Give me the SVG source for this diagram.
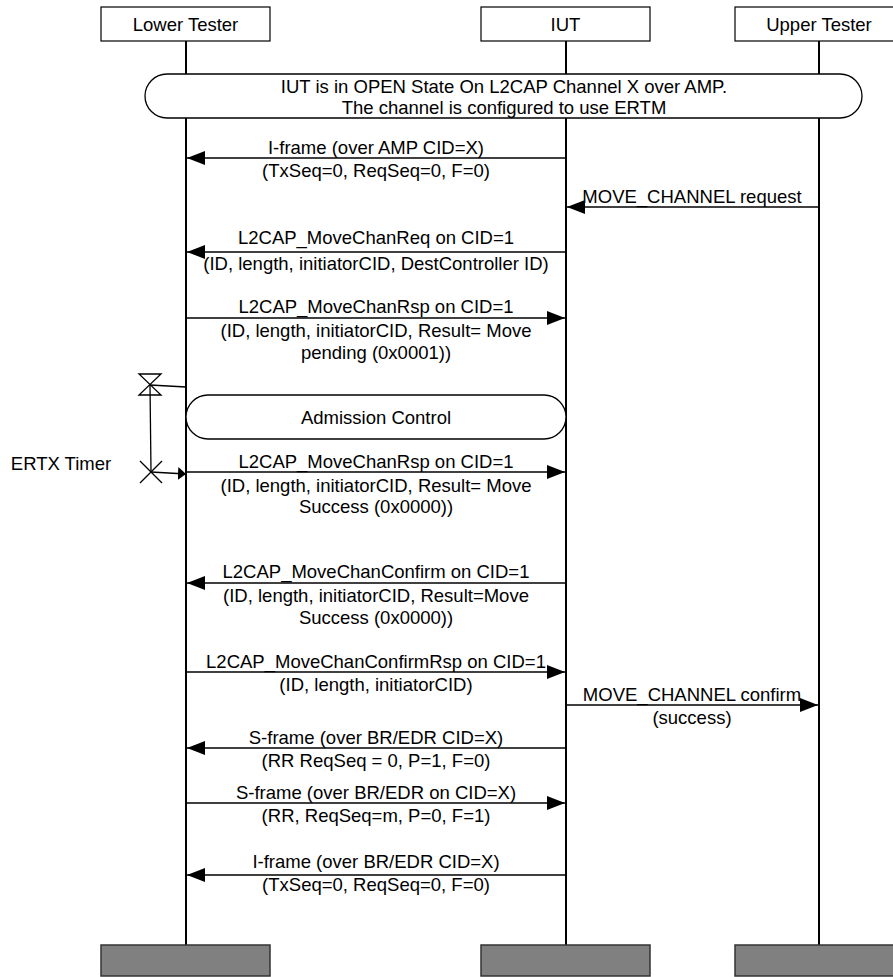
<svg xmlns="http://www.w3.org/2000/svg" width="893" height="977" viewBox="0 0 893 977">
<defs>
<style>
text{font-family:"Liberation Sans",Arial,sans-serif;font-size:18.5px;fill:#000;text-anchor:middle}
.hdr{fill:#fff;stroke:#000;stroke-width:1.2}
.ftr{fill:#808080;stroke:#333;stroke-width:1.5}
.life{stroke:#000;stroke-width:2;fill:none}
.msg{stroke:#000;stroke-width:1.3;fill:none;marker-end:url(#ah)}
.cond{fill:#fff;stroke:#000;stroke-width:1.3}
.tm{stroke:#000;stroke-width:1.3;fill:none}
</style>
<marker id="ah" markerWidth="20" markerHeight="16" refX="18" refY="7" orient="auto" markerUnits="userSpaceOnUse"><path d="M0,0 L18,7 L0,14 Z" fill="#000"/></marker>
<marker id="ahs" markerWidth="10" markerHeight="14" refX="8" refY="6.5" orient="auto" markerUnits="userSpaceOnUse"><path d="M0,0 L8,6.5 L0,13 Z" fill="#000"/></marker>
</defs>
<rect width="893" height="977" fill="#fff"/>
<g id="lifelines">
<line class="life" x1="186" y1="41" x2="186" y2="945"/>
<line class="life" x1="566" y1="41" x2="566" y2="945"/>
<line class="life" x1="819" y1="41" x2="819" y2="945"/>
</g>
<g id="lower-tester"><rect class="hdr" x="101" y="7" width="169" height="34"/><text x="185.5" y="30.5">Lower Tester</text></g>
<g id="iut"><rect class="hdr" x="481" y="7" width="169" height="34"/><text x="565.5" y="30.5">IUT</text></g>
<g id="upper-tester"><rect class="hdr" x="735" y="7" width="169" height="34"/><text x="819" y="30.5">Upper Tester</text></g>
<g id="lower-tester-end"><rect class="ftr" x="101" y="945" width="169" height="31"/></g>
<g id="iut-end"><rect class="ftr" x="481" y="945" width="169" height="31"/></g>
<g id="upper-tester-end"><rect class="ftr" x="735" y="945" width="169" height="31"/></g>
<g id="state-open"><rect class="cond" x="145" y="74" width="717" height="44" rx="22" ry="22"/>
<text x="504" y="92.5">IUT is in OPEN State On L2CAP Channel X over AMP.</text>
<text x="504" y="113.5">The channel is configured to use ERTM</text></g>
<g id="admission-control"><rect class="cond" x="186" y="395" width="380" height="44" rx="22" ry="22"/>
<text x="376" y="424">Admission Control</text></g>
<g id="ertx-timer">
<path class="tm" d="M139,374 H161 L139,395 H161 Z"/>
<line class="tm" x1="150" y1="385" x2="186" y2="387"/>
<line class="tm" x1="150" y1="385" x2="151" y2="472"/>
<path class="tm" d="M140,461 L162,483 M162,461 L140,483"/>
<line class="tm" x1="151" y1="472" x2="186" y2="474" marker-end="url(#ahs)"/>
<text x="61" y="470">ERTX Timer</text>
</g>
<g id="connectors">
<line class="msg" x1="566" y1="158" x2="187" y2="158"/>
<line class="msg" x1="819" y1="207" x2="567" y2="207"/>
<line class="msg" x1="566" y1="252" x2="187" y2="252"/>
<line class="msg" x1="186" y1="318" x2="565" y2="318"/>
<line class="msg" x1="186" y1="472" x2="565" y2="472"/>
<line class="msg" x1="566" y1="583" x2="187" y2="583"/>
<line class="msg" x1="186" y1="672" x2="565" y2="672"/>
<line class="msg" x1="566" y1="705" x2="818" y2="705"/>
<line class="msg" x1="566" y1="748" x2="187" y2="748"/>
<line class="msg" x1="186" y1="803" x2="565" y2="803"/>
<line class="msg" x1="566" y1="875" x2="187" y2="875"/>
</g>
<g id="labels">
<text x="376" y="153.5">I-frame (over AMP CID=X)</text>
<text x="376" y="176.5">(TxSeq=0, ReqSeq=0, F=0)</text>
<text x="692" y="202.5">MOVE_CHANNEL request</text>
<text x="376" y="243.5">L2CAP_MoveChanReq on CID=1</text>
<text x="376" y="269.5">(ID, length, initiatorCID, DestController ID)</text>
<text x="376" y="312.5">L2CAP_MoveChanRsp on CID=1</text>
<text x="376" y="336.5">(ID, length, initiatorCID, Result= Move</text>
<text x="376" y="358.5">pending (0x0001))</text>
<text x="376" y="467.5">L2CAP_MoveChanRsp on CID=1</text>
<text x="376" y="491.5">(ID, length, initiatorCID, Result= Move</text>
<text x="376" y="512.5">Success (0x0000))</text>
<text x="376" y="577.5">L2CAP_MoveChanConfirm on CID=1</text>
<text x="376" y="601.5">(ID, length, initiatorCID, Result=Move</text>
<text x="376" y="623.5">Success (0x0000))</text>
<text x="376" y="667.5">L2CAP_MoveChanConfirmRsp on CID=1</text>
<text x="376" y="690.5">(ID, length, initiatorCID)</text>
<text x="692" y="700.5">MOVE_CHANNEL confirm</text>
<text x="692" y="723.5">(success)</text>
<text x="376" y="743.5">S-frame (over BR/EDR CID=X)</text>
<text x="376" y="766.5">(RR ReqSeq = 0, P=1, F=0)</text>
<text x="376" y="798.5">S-frame (over BR/EDR on CID=X)</text>
<text x="376" y="821.5">(RR, ReqSeq=m, P=0, F=1)</text>
<text x="376" y="867.5">I-frame (over BR/EDR CID=X)</text>
<text x="376" y="890.5">(TxSeq=0, ReqSeq=0, F=0)</text>
</g>
</svg>
